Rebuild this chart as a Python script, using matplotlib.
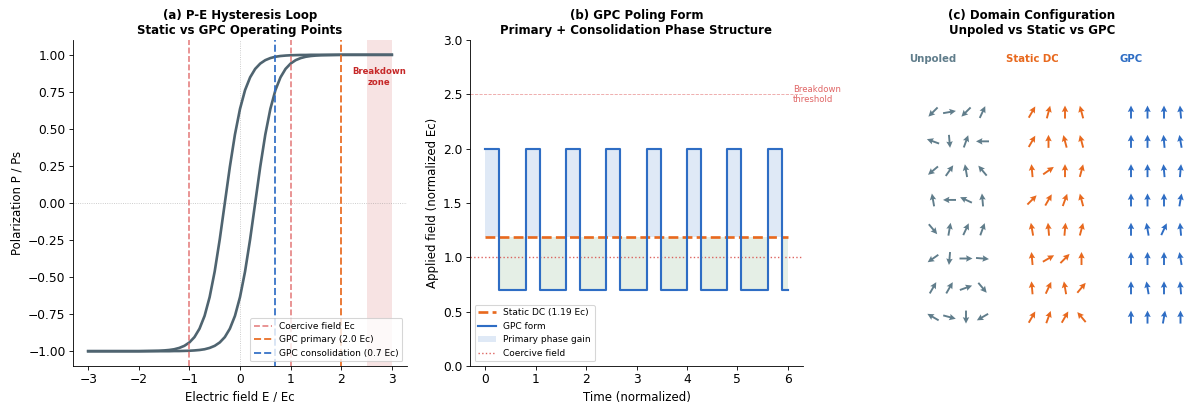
import numpy as np
import matplotlib
matplotlib.use("Agg")
import matplotlib.pyplot as plt

# ---------------- data ----------------
# (a) hysteresis branches
E_field = [-3.0, -2.5, -2.0, -1.6, -1.5, -1.4, -1.3, -1.2, -1.1, -1.0, -0.9, -0.8, -0.7,
           -0.6, -0.5, -0.4, -0.3, -0.2, -0.1, 0.0, 0.1, 0.2, 0.3, 0.4, 0.5, 0.6,
           0.7, 0.8, 0.9, 1.0, 1.1, 1.2, 1.3, 1.4, 1.5, 1.6, 2.0, 2.5, 3.0]
P_upper = [-1.000, -1.000, -1.000, -0.997, -0.995, -0.992, -0.987, -0.978, -0.964, -0.941,
           -0.905, -0.848, -0.762, -0.635, -0.462, -0.245, 0.000, 0.245, 0.462, 0.635,
           0.762, 0.848, 0.905, 0.941, 0.964, 0.978, 0.987, 0.992, 0.995, 0.997, 0.998,
           0.999, 0.999, 1.000, 1.000, 1.000, 1.000, 1.000, 1.000]
P_lower = [-1.000, -1.000, -1.000, -1.000, -1.000, -1.000, -0.999, -0.999, -0.998, -0.997,
           -0.995, -0.992, -0.987, -0.978, -0.964, -0.941, -0.905, -0.848, -0.762, -0.635,
           -0.462, -0.245, 0.000, 0.245, 0.462, 0.635, 0.762, 0.848, 0.905, 0.941, 0.964,
           0.978, 0.987, 0.992, 0.995, 0.997, 1.000, 1.000, 1.000]
coercive_field = 1.0
gpc_primary = 2.0
gpc_consolidation = 0.7
breakdown_zone = (2.5, 3.0)

# (b) GPC waveform
pulse_starts = [0.0, 0.8, 1.6, 2.4, 3.2, 4.0, 4.8, 5.6]
pulse_width = 0.28
pulse_high = 2.0
pulse_low = 0.7
t_end = 6.0
static_dc = 1.19
breakdown_threshold = 2.5

# (c) domain angles (degrees, 0 = right, 90 = up), 8 rows x 4 columns
unpoled_angles = [
    [225, 10, 225, 65],
    [160, 275, 70, 180],
    [220, 55, 100, 130],
    [100, 180, 155, 95],
    [310, 80, 65, 70],
    [215, 265, 0, 355],
    [60, 60, 20, 310],
    [150, 345, 270, 210],
]
static_angles = [
    [60, 75, 90, 105],
    [60, 90, 105, 105],
    [95, 35, 90, 75],
    [45, 60, 70, 105],
    [100, 95, 85, 75],
    [95, 30, 45, 90],
    [95, 65, 100, 50],
    [60, 70, 60, 130],
]
gpc_angles = [
    [90, 90, 90, 95],
    [90, 90, 95, 100],
    [90, 90, 95, 85],
    [90, 90, 90, 80],
    [90, 100, 65, 95],
    [90, 90, 90, 100],
    [90, 100, 90, 95],
    [90, 90, 80, 90],
]
group_names = ["Unpoled", "Static DC", "GPC"]

# ---------------- style ----------------
C_HYST = "#4F6470"
C_RED = "#E06666"
C_DARKRED = "#C62828"
C_ORANGE = "#E8691E"
C_BLUE = "#2E6DC4"
C_GRAY = "#607D8B"
C_GREEN = "#2E7D32"

DPI = 76.5
fig = plt.figure(figsize=(1187 / DPI, 402 / DPI), dpi=DPI)

def style_axes(ax):
    ax.spines["top"].set_visible(False)
    ax.spines["right"].set_visible(False)
    ax.tick_params(labelsize=11.5)

# ---------------- (a) ----------------
axa = fig.add_axes([73 / 1187, 36 / 402, 334 / 1187, 326 / 402])
style_axes(axa)
axa.axvspan(*breakdown_zone, color=C_DARKRED, alpha=0.13, lw=0)
axa.axhline(0, color="gray", ls=":", lw=0.8, alpha=0.5)
axa.axvline(0, color="gray", ls=":", lw=0.8, alpha=0.5)
axa.plot(E_field, P_upper, color=C_HYST, lw=2.5)
axa.plot(E_field, P_lower, color=C_HYST, lw=2.5)
axa.axvline(-coercive_field, color=C_RED, ls="--", lw=1.5, alpha=0.85, label="Coercive field Ec")
axa.axvline(coercive_field, color=C_RED, ls="--", lw=1.5, alpha=0.85)
axa.axvline(gpc_primary, color=C_ORANGE, ls="--", lw=1.8, alpha=0.9, label="GPC primary (2.0 Ec)")
axa.axvline(gpc_consolidation, color=C_BLUE, ls="--", lw=1.8, alpha=0.9,
            label="GPC consolidation (0.7 Ec)")
axa.text(np.mean(breakdown_zone), 0.85, "Breakdown\nzone", color=C_DARKRED, fontsize=8,
         fontweight="bold", ha="center", va="center")
axa.set_xticks([-3, -2, -1, 0, 1, 2, 3])
axa.set_yticks([-1.0, -0.75, -0.5, -0.25, 0.0, 0.25, 0.5, 0.75, 1.0])
axa.set_xlabel("Electric field E / Ec", fontsize=11)
axa.set_ylabel("Polarization P / Ps", fontsize=11)
axa.set_title("(a) P-E Hysteresis Loop\nStatic vs GPC Operating Points", fontsize=11,
              fontweight="bold")
axa.legend(loc="lower right", fontsize=8.5)

# ---------------- (b) ----------------
axb = fig.add_axes([470 / 1187, 36 / 402, 333 / 1187, 326 / 402])
style_axes(axb)
t_vals, y_vals = [], []
for i, s in enumerate(pulse_starts):
    nxt = pulse_starts[i + 1] if i + 1 < len(pulse_starts) else t_end
    t_vals += [s, s + pulse_width, s + pulse_width, nxt]
    y_vals += [pulse_high, pulse_high, pulse_low, pulse_low]
    if i + 1 < len(pulse_starts):
        t_vals.append(nxt)
        y_vals.append(pulse_low)
t_arr = np.array(t_vals)
y_arr = np.array(y_vals)
axb.fill_between(t_arr, y_arr, static_dc, where=y_arr >= static_dc, color=C_BLUE,
                 alpha=0.15, lw=0, label="Primary phase gain")
axb.fill_between(t_arr, y_arr, static_dc, where=y_arr <= static_dc, color=C_GREEN,
                 alpha=0.12, lw=0)
axb.axhline(breakdown_threshold, color=C_RED, ls="--", lw=0.8, alpha=0.6)
axb.axhline(coercive_field, color="#D9534F", ls=":", lw=1.3, alpha=0.9, label="Coercive field")
axb.plot([0, t_end], [static_dc, static_dc], color=C_ORANGE, ls="--", lw=2.5,
         label="Static DC (1.19 Ec)")
axb.plot(t_arr, y_arr, color=C_BLUE, lw=2.0, label="GPC form")
axb.text(6.1, breakdown_threshold, "Breakdown\nthreshold", color=C_RED, fontsize=8,
         ha="left", va="center", clip_on=False)
axb.set_ylim(0, 3.0)
axb.set_xticks([0, 1, 2, 3, 4, 5, 6])
axb.set_yticks([0.0, 0.5, 1.0, 1.5, 2.0, 2.5, 3.0])
axb.set_xlabel("Time (normalized)", fontsize=11)
axb.set_ylabel("Applied field (normalized Ec)", fontsize=11)
axb.set_title("(b) GPC Poling Form\nPrimary + Consolidation Phase Structure", fontsize=11,
              fontweight="bold")
h, l = axb.get_legend_handles_labels()
order = [l.index("Static DC (1.19 Ec)"), l.index("GPC form"),
         l.index("Primary phase gain"), l.index("Coercive field")]
axb.legend([h[i] for i in order], [l[i] for i in order], loc="lower left", fontsize=8.5)

# ---------------- (c) ----------------
axc = fig.add_axes([867 / 1187, 36 / 402, 330 / 1187, 326 / 402])
axc.set_xlim(-4, 16)
axc.set_ylim(-8.67, 2.46)
axc.axis("off")
axc.set_title("(c) Domain Configuration\nUnpoled vs Static vs GPC", fontsize=11,
              fontweight="bold")
arrow_len = 13
for g, (angles, name, col) in enumerate(zip([unpoled_angles, static_angles, gpc_angles],
                                            group_names, [C_GRAY, C_ORANGE, C_BLUE])):
    a = np.radians(np.array(angles, dtype=float))
    rows, cols = a.shape
    xs, ys = np.meshgrid(np.arange(cols) + 6 * g, -np.arange(rows))
    axc.quiver(xs, ys, arrow_len * np.cos(a), arrow_len * np.sin(a), color=col,
               angles="uv", scale_units="dots", scale=1, units="dots", width=1.9,
               headwidth=3.4, headlength=3.4, headaxislength=3.0, pivot="middle",
               clip_on=False)
    axc.text(6 * g, 1.81, name, color=col, fontsize=9.5, fontweight="bold",
             ha="center", va="center")

fig.savefig("out.png", dpi=DPI)
